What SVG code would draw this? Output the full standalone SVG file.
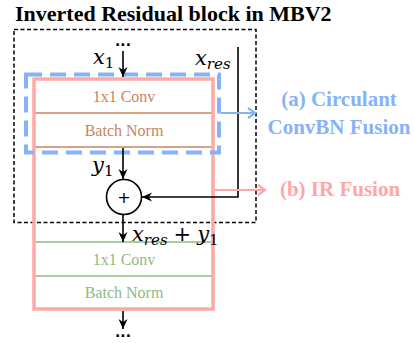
<svg xmlns="http://www.w3.org/2000/svg" width="414" height="343" viewBox="0 0 414 343">
<style>
.title{font-family:"Liberation Serif",serif;font-weight:bold;font-size:22px;fill:#000}
.lbl{font-family:"Liberation Serif",serif;font-size:16px;text-anchor:middle}
.brown{fill:#c8865c}
.green{fill:#8cbc80}
.math{font-family:"DejaVu Serif",serif;font-style:italic;font-size:21px;fill:#000}
.sub{font-size:15px}
.up{font-style:normal}
.side{font-family:"Liberation Serif",serif;font-weight:bold;font-size:21px;text-anchor:middle}
.dots{font-family:"DejaVu Sans",sans-serif;font-size:14px;font-weight:bold;text-anchor:middle}
.blk{stroke:#000;stroke-width:1.6;fill:none}
</style>
<defs>
<marker id="ah" markerUnits="userSpaceOnUse" markerWidth="12" markerHeight="12" viewBox="0 0 12 12" refX="11" refY="6" orient="auto">
<path d="M1,1.5 L11,6 L1,10.5 L4,6 z" fill="#000"/>
</marker>
<marker id="ahb" markerUnits="userSpaceOnUse" markerWidth="14" markerHeight="14" viewBox="0 0 14 14" refX="12" refY="7" orient="auto">
<path d="M5,2 L12,7 L5,12" fill="none" stroke="#86b3f7" stroke-width="2.2"/>
</marker>
<marker id="ahp" markerUnits="userSpaceOnUse" markerWidth="14" markerHeight="14" viewBox="0 0 14 14" refX="12" refY="7" orient="auto">
<path d="M5,2 L12,7 L5,12" fill="none" stroke="#ffa6a6" stroke-width="2.2"/>
</marker>
</defs>
<rect width="414" height="343" fill="#fff"/>
<text class="title" x="15" y="21">Inverted Residual block in MBV2</text>

<g id="outer-box">
<rect x="14" y="29.5" width="242" height="193" fill="none" stroke="#000" stroke-width="1.5" stroke-dasharray="4 2.5"/>
</g>

<g id="ir-block">
<rect x="34" y="79" width="179" height="230" fill="none" stroke="#ffa8a8" stroke-width="3.5"/>
</g>

<g id="conv1">
<line x1="35.5" y1="113" x2="211.5" y2="113" stroke="#c8865c" stroke-width="1.6"/>
<text class="lbl brown" x="124" y="102">1x1 Conv</text>
</g>
<g id="bn1">
<line x1="35.5" y1="147" x2="211.5" y2="147" stroke="#c8865c" stroke-width="1.6"/>
<text class="lbl brown" x="124" y="136">Batch Norm</text>
</g>

<g id="conv2">
<line x1="35.5" y1="242" x2="211.5" y2="242" stroke="#8cbc80" stroke-width="1.6"/>
<text class="lbl green" x="124" y="265">1x1 Conv</text>
</g>
<g id="bn2">
<line x1="35.5" y1="276" x2="211.5" y2="276" stroke="#8cbc80" stroke-width="1.6"/>
<text class="lbl green" x="124" y="298">Batch Norm</text>
</g>

<g id="convbn-fusion-box">
<rect x="26" y="74.5" width="193" height="78" fill="none" stroke="#86b3f7" stroke-width="4" stroke-dasharray="16 8"/>
</g>

<g id="add">
<circle cx="124" cy="197" r="17.5" fill="#fff" stroke="#000" stroke-width="1.6"/>
<text x="124" y="203" font-family="DejaVu Sans,sans-serif" font-size="16" text-anchor="middle">+</text>
</g>

<g id="connectors">
<text class="dots" x="123" y="46">...</text>
<line class="blk" x1="123" y1="51" x2="123" y2="77" marker-end="url(#ah)"/>
<line class="blk" x1="123" y1="148" x2="123" y2="179" marker-end="url(#ah)"/>
<polyline class="blk" points="238,47 238,197 142,197" marker-end="url(#ah)"/>
<line class="blk" x1="123" y1="214.5" x2="123" y2="242" marker-end="url(#ah)"/>
<line class="blk" x1="123" y1="311" x2="123" y2="329" marker-end="url(#ah)"/>
<text class="dots" x="123" y="337">...</text>
<line x1="221" y1="113" x2="255" y2="113" stroke="#86b3f7" stroke-width="2.2" marker-end="url(#ahb)"/>
<line x1="214.5" y1="190" x2="265" y2="190" stroke="#ffa6a6" stroke-width="2.2" marker-end="url(#ahp)"/>
</g>

<g id="labels">
<text class="math" x="93" y="64">x<tspan class="sub up" dy="4">1</tspan></text>
<text class="math" x="195" y="65">x<tspan class="sub" dy="4">res</tspan></text>
<text class="math" x="92" y="172">y<tspan class="sub up" dy="4">1</tspan></text>
<text class="math" x="132" y="241">x<tspan class="sub" dy="4">res</tspan><tspan class="up" dx="6" dy="-4">+</tspan><tspan dx="6">y</tspan><tspan class="sub up" dy="4">1</tspan></text>
<text class="side" x="339" y="106" fill="#86b3f7">(a) Circulant</text>
<text class="side" x="339" y="134" fill="#86b3f7">ConvBN Fusion</text>
<text class="side" x="340" y="196" fill="#ffa6a6">(b) IR Fusion</text>
</g>
</svg>
